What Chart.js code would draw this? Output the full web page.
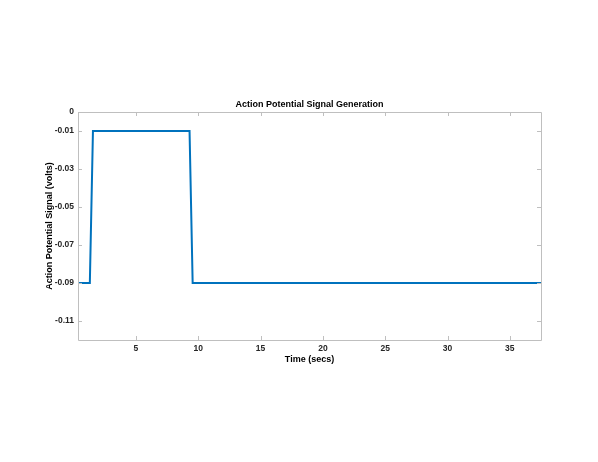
<!DOCTYPE html>
<html>
<head>
<meta charset="utf-8">
<script src="https://cdn.jsdelivr.net/npm/chart.js@4"></script>
<style>
  body { margin: 0; background: #fff; }
</style>
</head>
<body>
<canvas id="chart" width="598" height="462"></canvas>
<script>
// values
const timeSecs = [0.35, 1.3, 1.55, 9.3, 9.55, 37.5];
const signalVolts = [-0.09, -0.09, -0.01, -0.01, -0.09, -0.09];
const xTicks = [5, 10, 15, 20, 25, 30, 35];
const yTicks = [0, -0.01, -0.03, -0.05, -0.07, -0.09, -0.11];

const axisGray = '#bfbfbf';
const textColor = '#262626';
const fontFamily = '"Liberation Sans", Arial, Helvetica, sans-serif';

// box around the plot plus little inward ticks, matlab style
const boxTicks = {
  id: 'boxTicks',
  afterDraw(chart) {
    const ctx = chart.ctx;
    const a = chart.chartArea;
    const xs = chart.scales.x, ys = chart.scales.y;
    const len = 4;
    ctx.save();
    ctx.strokeStyle = axisGray;
    ctx.lineWidth = 1;
    ctx.beginPath();
    ctx.rect(Math.round(a.left) + 0.5, Math.round(a.top) + 0.5,
      Math.round(a.right - a.left), Math.round(a.bottom - a.top));
    xTicks.forEach(v => {
      const px = Math.round(xs.getPixelForValue(v)) + 0.5;
      ctx.moveTo(px, a.bottom); ctx.lineTo(px, a.bottom - len);
      ctx.moveTo(px, a.top); ctx.lineTo(px, a.top + len);
    });
    yTicks.forEach(v => {
      const py = Math.round(ys.getPixelForValue(v)) + 0.5;
      ctx.moveTo(a.left, py); ctx.lineTo(a.left + len, py);
      ctx.moveTo(a.right, py); ctx.lineTo(a.right - len, py);
    });
    ctx.stroke();
    ctx.restore();
  }
};

new Chart(document.getElementById('chart'), {
  type: 'line',
  data: {
    datasets: [{
      data: timeSecs.map((t, i) => ({ x: t, y: signalVolts[i] })),
      borderColor: '#0072BD',
      borderWidth: 2,
      pointRadius: 0,
      tension: 0,
      fill: false
    }]
  },
  options: {
    responsive: false,
    animation: false,
    layout: { padding: { left: 0, right: 57, top: 0, bottom: 0 } },
    plugins: {
      legend: { display: false },
      tooltip: { enabled: false },
      title: {
        display: true,
        text: 'Action Potential Signal Generation',
        fullSize: false,
        color: '#000',
        font: { family: fontFamily, size: 9, weight: 'bold', lineHeight: 1.2 },
        padding: { top: 99.5, bottom: 1.7 }
      }
    },
    scales: {
      x: {
        type: 'linear',
        min: 0.35,
        max: 37.5,
        afterBuildTicks: s => { s.ticks = xTicks.map(v => ({ value: v })); },
        afterFit: s => { s.height = 122; },
        grid: { display: false, drawTicks: false },
        border: { display: false },
        ticks: {
          color: textColor,
          padding: 4,
          maxRotation: 0,
          font: { family: fontFamily, size: 8.5, weight: 'bold' }
        },
        title: {
          display: true,
          text: 'Time (secs)',
          color: '#000',
          font: { family: fontFamily, size: 9, weight: 'bold', lineHeight: 1.2 },
          padding: { top: 0, bottom: 97 }
        }
      },
      y: {
        min: -0.12,
        max: 0,
        afterBuildTicks: s => { s.ticks = yTicks.map(v => ({ value: v })); },
        afterFit: s => { s.width = 78; },
        grid: { display: false, drawTicks: false },
        border: { display: false },
        ticks: {
          color: textColor,
          padding: 4,
          font: { family: fontFamily, size: 8.5, weight: 'bold' },
          callback: v => (v === 0 ? '0' : v.toFixed(2))
        },
        title: {
          display: true,
          text: 'Action Potential Signal (volts)',
          color: '#000',
          font: { family: fontFamily, size: 9, weight: 'bold', lineHeight: 1.2 },
          padding: { top: 44.6, bottom: 0 }
        }
      }
    }
  },
  plugins: [boxTicks]
});
</script>
</body>
</html>
